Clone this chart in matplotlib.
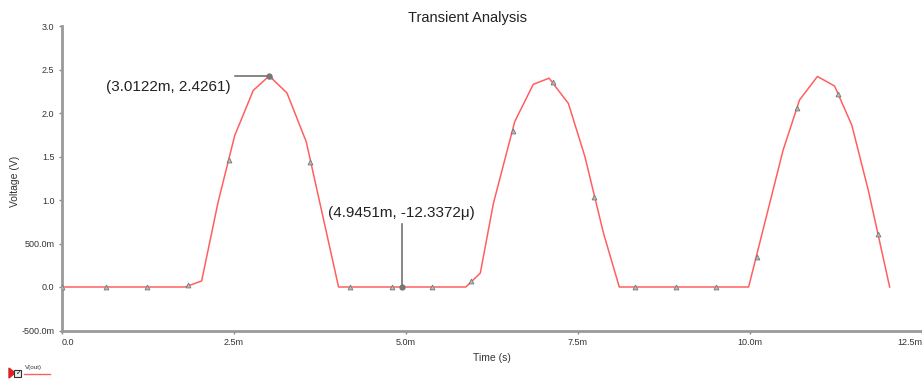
import matplotlib
matplotlib.use("Agg")
import matplotlib.pyplot as plt
from matplotlib.lines import Line2D

plt.rcParams['font.family'] = ['Liberation Sans', 'DejaVu Sans']

# Vertices of the V(out) trace (time in ms, voltage in V)
tiempo_ms = [0.0, 1.79, 2.03, 2.27, 2.51, 2.78, 3.0122, 3.27, 3.55, 4.02,
             5.87, 6.08, 6.27, 6.58, 6.85, 7.08, 7.36, 7.60, 7.87, 8.10,
             9.98, 10.48, 10.72, 10.98, 11.23, 11.48, 11.72, 12.03]
voltaje = [0.0, 0.0, 0.07, 0.98, 1.74, 2.26, 2.4261, 2.23, 1.67, 0.0,
           0.0, 0.16, 0.96, 1.90, 2.33, 2.40, 2.11, 1.50, 0.62, 0.0,
           0.0, 1.57, 2.15, 2.42, 2.31, 1.86, 1.11, 0.0]

# Triangle trace markers
marcas_t = [0.0, 0.64, 1.24, 1.83, 2.43, 3.02, 3.60, 4.19, 4.80, 5.38, 5.945,
            6.55, 7.14, 7.73, 8.33, 8.92, 9.51, 10.10, 10.68, 11.28, 11.86]
marcas_v = [0.0, 0.0, 0.0, 0.02, 1.46, 2.43, 1.44, 0.0, 0.0, 0.0, 0.07,
            1.79, 2.36, 1.03, 0.0, 0.0, 0.0, 0.34, 2.06, 2.22, 0.61]

# Cursors
cursor_t = [3.0122, 4.9451]
cursor_v = [2.4261, -12.3372e-6]
cursor_txt = ["(3.0122m, 2.4261)", "(4.9451m, -12.3372\u03bc)"]

xticks = [0.0, 2.5, 5.0, 7.5, 10.0, 12.5]
xtick_lbl = ["0.0", "2.5m", "5.0m", "7.5m", "10.0m", "12.5m"]
yticks = [-0.5, 0.0, 0.5, 1.0, 1.5, 2.0, 2.5, 3.0]
ytick_lbl = ["-500.0m", "0.0", "500.0m", "1.0", "1.5", "2.0", "2.5", "3.0"]

fig = plt.figure(figsize=(9.22, 3.79), dpi=100)
ax = fig.add_axes([62 / 922, 1 - 330.5 / 379, 860 / 922, (330.5 - 26) / 379])

ax.plot(tiempo_ms, voltaje, color='#ff5f5f', lw=1.1, zorder=2)
ax.plot(marcas_t, marcas_v, ls='none', marker='^', ms=3.5, mfc='#bbbbbb',
        mec='#777777', mew=0.6, zorder=3)

# cursor 1: horizontal leader to the left
ax.plot([2.51, cursor_t[0]], [cursor_v[0], cursor_v[0]], color='#666666', lw=1.1, zorder=3)
# cursor 2: vertical leader upwards
ax.plot([cursor_t[1], cursor_t[1]], [0.0, 0.72], color='#666666', lw=1.1, zorder=3)
ax.plot(cursor_t, cursor_v, ls='none', marker='o', ms=3.5, color='#777777', zorder=4)

ax.text(1.54, 2.30, cursor_txt[0], fontsize=11, ha='center', va='center', color='#222222')
ax.text(4.94, 0.85, cursor_txt[1], fontsize=11, ha='center', va='center', color='#222222')

ax.set_xlim(0, 12.5)
ax.set_ylim(-0.5, 3.0)
ax.set_xticks(xticks)
ax.set_xticklabels(xtick_lbl)
ax.set_yticks(yticks)
ax.set_yticklabels(ytick_lbl)
ax.tick_params(axis='both', labelsize=6.5, colors='#888888', labelcolor='#333333',
               length=2.5, width=1, pad=3)
lbls = ax.get_xticklabels()
lbls[0].set_ha('left')
lbls[-1].set_ha('right')

for s in ['top', 'right']:
    ax.spines[s].set_visible(False)
for s in ['left', 'bottom']:
    ax.spines[s].set_color('#999999')
    ax.spines[s].set_linewidth(2)

ax.set_title("Transient Analysis", fontsize=10.5, color='#222222', pad=3, x=0.472)
ax.set_xlabel("Time (s)", fontsize=7.5, color='#333333', labelpad=4)
ax.set_ylabel("Voltage (V)", fontsize=7.5, color='#333333')
ax.yaxis.set_label_coords(-0.049, 0.49)

# legend at the bottom-left corner
fig.patches.append(plt.Polygon([[9 / 922, 1 - 368 / 379], [9 / 922, 1 - 378 / 379],
                                [15 / 922, 1 - 373 / 379]], closed=True,
                               transform=fig.transFigure, color='#dd2222'))
fig.patches.append(plt.Rectangle((14 / 922, 1 - 377 / 379), 7 / 922, 7 / 379,
                                 transform=fig.transFigure, facecolor='#eeeeee',
                                 edgecolor='#333333', lw=0.8))
fig.text(16 / 922, 1 - 373.5 / 379, "\u2713", fontsize=5, color='#111111', va='center')
fig.text(25 / 922, 1 - 367 / 379, "V(out)", fontsize=4.5, color='#333333', va='center')
fig.lines.append(Line2D([24 / 922, 50 / 922], [1 - 374 / 379, 1 - 374 / 379],
                        transform=fig.transFigure, color='#ff5f5f', lw=1))

fig.savefig("out.png", dpi=100)
